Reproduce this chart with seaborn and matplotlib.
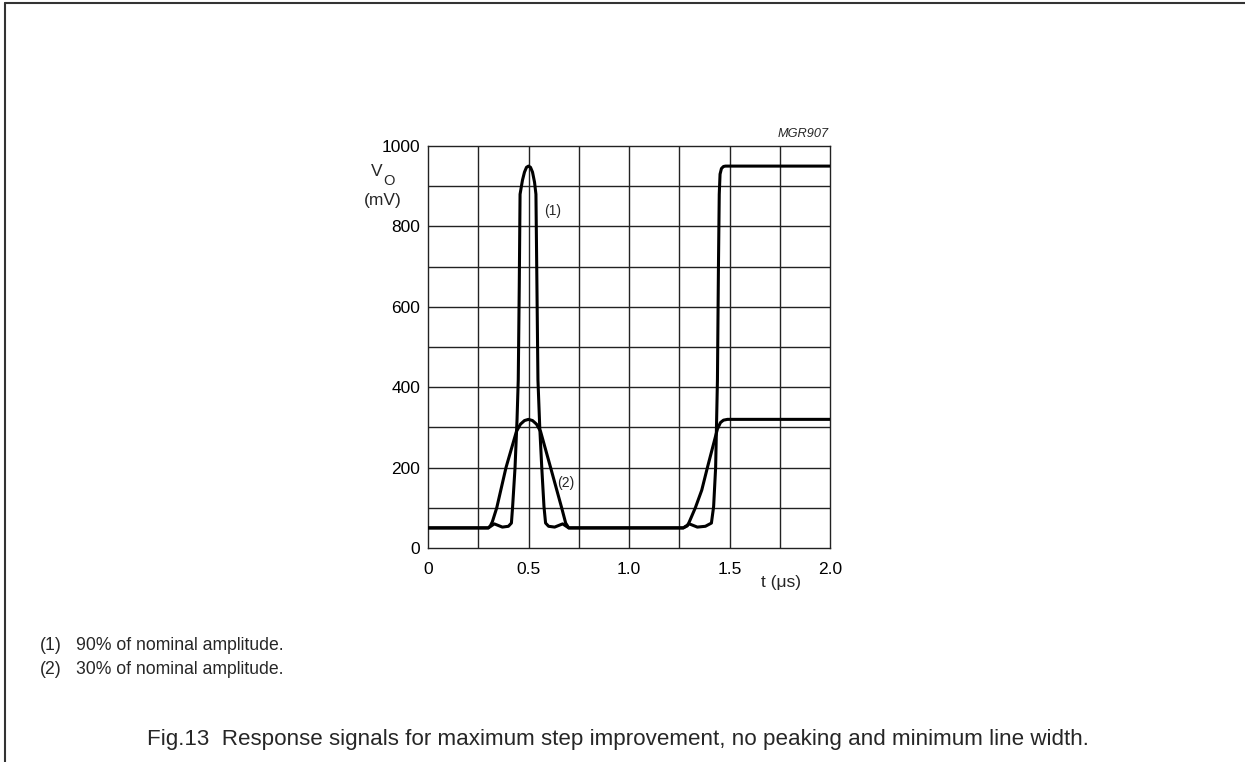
import matplotlib
matplotlib.use("Agg")
import matplotlib.pyplot as plt
import seaborn as sns
import pandas as pd
from matplotlib.lines import Line2D

# ---- data ----
t_curve1 = [0.0, 0.30, 0.33, 0.37, 0.40, 0.415, 0.421, 0.433, 0.443, 0.449, 0.454, 0.458,
            0.47, 0.48, 0.49, 0.50, 0.51, 0.52, 0.53, 0.537, 0.542, 0.547, 0.556,
            0.566, 0.577, 0.585, 0.60, 0.63, 0.67, 0.70,
            1.27, 1.30, 1.34, 1.38, 1.41, 1.421, 1.431, 1.440, 1.445, 1.449, 1.453,
            1.46, 1.47, 1.48, 2.0]
v_curve1 = [50, 50, 60, 52, 54, 62, 103, 200, 320, 418, 650, 880,
            915, 935, 947, 950, 947, 935, 910, 880, 650, 418, 300,
            200, 103, 62, 54, 52, 60, 50,
            50, 60, 52, 54, 62, 103, 200, 418, 700, 880, 930,
            944, 949, 950, 950]

t_curve2 = [0.0, 0.30, 0.31, 0.32, 0.342, 0.388, 0.44, 0.46, 0.48, 0.50, 0.52, 0.54, 0.56,
            0.61, 0.665, 0.685, 0.70,
            1.27, 1.29, 1.30, 1.33, 1.362, 1.39, 1.44, 1.455, 1.47, 1.49, 2.0]
v_curve2 = [50, 50, 55, 65, 100, 200, 290, 308, 317, 320, 317, 308, 290,
            200, 100, 62, 50,
            50, 55, 65, 100, 144, 200, 296, 312, 318, 320, 320]

x_ticks = [0, 0.5, 1.0, 1.5, 2.0]
x_tick_labels = ["0", "0.5", "1.0", "1.5", "2.0"]
y_ticks = [0, 200, 400, 600, 800, 1000]
y_tick_labels = ["0", "200", "400", "600", "800", "1000"]

curve_labels = ["(1)", "(2)"]
footnotes = ["90% of nominal amplitude.", "30% of nominal amplitude."]
caption = "Fig.13  Response signals for maximum step improvement, no peaking and minimum line width."

# ---- figure ----
sns.set_theme(style="white")
plt.rcParams['font.family'] = ['Liberation Sans', 'DejaVu Sans']

W, H = 1245, 762
fig = plt.figure(figsize=(W / 100, H / 100), dpi=100)
ax = fig.add_axes([428 / W, 1 - 548 / H, 402 / W, 402 / H])

df1 = pd.DataFrame({"t": t_curve1, "v": v_curve1})
df2 = pd.DataFrame({"t": t_curve2, "v": v_curve2})
sns.lineplot(data=df2, x="t", y="v", ax=ax, sort=False, estimator=None,
             color="black", linewidth=2.2, zorder=3)
sns.lineplot(data=df1, x="t", y="v", ax=ax, sort=False, estimator=None,
             color="black", linewidth=2.2, zorder=3)

ax.set_xlim(0, 2.0)
ax.set_ylim(0, 1000)
ax.set_xlabel("")
ax.set_ylabel("")

# grid
for gx in [0.25 * i for i in range(1, 8)]:
    ax.axvline(gx, color="#222222", linewidth=1.0, zorder=1)
for gy in range(100, 1000, 100):
    ax.axhline(gy, color="#222222", linewidth=1.0, zorder=1)
for s in ax.spines.values():
    s.set_visible(True)
    s.set_color("#222222")
    s.set_linewidth(1.0)

ax.set_xticks(x_ticks)
ax.set_xticklabels(x_tick_labels)
ax.set_yticks(y_ticks)
ax.set_yticklabels(y_tick_labels)
ax.tick_params(axis="both", length=0, labelsize=12.5, colors="black")
ax.tick_params(axis="x", pad=10)
ax.tick_params(axis="y", pad=5.5)

# axis labels
fig.text(383 / W, 1 - 172 / H, "V", fontsize=12.5, ha="right", va="center")
fig.text(383 / W, 1 - 181 / H, "O", fontsize=10.5, ha="left", va="center")
fig.text(383 / W, 1 - 200 / H, "(mV)", fontsize=12.5, ha="center", va="center")
fig.text(781 / W, 1 - 582 / H, "t (\u03bcs)", fontsize=12.5, ha="center", va="center")
fig.text(829 / W, 1 - 134 / H, "MGR907", fontsize=9.2, style="italic",
         ha="right", va="center")

# curve labels
ax.text(0.58, 838, curve_labels[0], fontsize=10, ha="left", va="center")
ax.text(0.64, 162, curve_labels[1], fontsize=10, ha="left", va="center")

# footnotes
for i, (lab, note) in enumerate(zip(curve_labels, footnotes)):
    y = 645 + 25 * i
    fig.text(40 / W, 1 - y / H, lab, fontsize=12.7, ha="left", va="center")
    fig.text(76 / W, 1 - y / H, note, fontsize=12.7, ha="left", va="center")

fig.text(618 / W, 1 - 740 / H, caption, fontsize=16.1, ha="center", va="center")

# page frame (top and left edges)
fig.add_artist(Line2D([5 / W, 5 / W], [0, 1 - 3 / H], transform=fig.transFigure,
                      color="#333333", linewidth=1.5))
fig.add_artist(Line2D([5 / W, 1], [1 - 3 / H, 1 - 3 / H], transform=fig.transFigure,
                      color="#333333", linewidth=1.5))

fig.savefig("out.png", dpi=100, facecolor="white")
